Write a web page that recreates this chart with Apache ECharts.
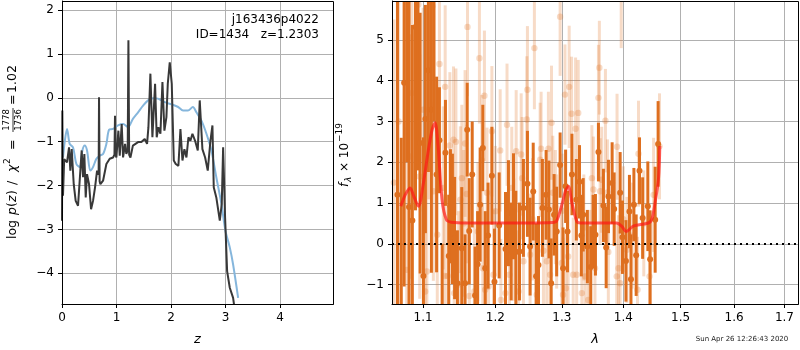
<!DOCTYPE html>
<html>
<head>
<meta charset="utf-8">
<script src="https://cdn.jsdelivr.net/npm/echarts@6/dist/echarts.min.js"></script>
<style>
html, body { margin: 0; padding: 0; background: #fff; }
#main { width: 800px; height: 350px; }
</style>
</head>
<body>
<div id="main"></div>
<script>
// ---- p(z) panel ----
var zBlack = [0, 0.006, 0.018, 0.04, 0.068, 0.092, 0.129, 0.153, 0.178, 0.215, 0.251, 0.294, 0.325, 0.361, 0.386, 0.41, 0.435, 0.459, 0.496, 0.533, 0.569, 0.606, 0.643, 0.672, 0.679, 0.69, 0.704, 0.753, 0.814, 0.875, 0.936, 0.962, 0.972, 0.982, 0.997, 1.034, 1.059, 1.095, 1.12, 1.157, 1.18, 1.205, 1.218, 1.232, 1.255, 1.30, 1.395, 1.456, 1.517, 1.56, 1.585, 1.621, 1.658, 1.707, 1.737, 1.768, 1.805, 1.842, 1.878, 1.915, 1.94, 1.976, 2.013, 2.05, 2.086, 2.135, 2.172, 2.209, 2.245, 2.282, 2.319, 2.355, 2.392, 2.441, 2.49, 2.526, 2.575, 2.625, 2.673, 2.722, 2.759, 2.783, 2.83, 2.894, 2.93, 2.955, 2.991, 3.028, 3.077, 3.138, 3.17];
var logpBlack = [-2.8, -0.29, -2.23, -1.4, -1.36, -1.47, -1.13, -1.66, -1.17, -1.97, -2.35, -2.46, -2.42, -1.2, -1.81, -1.28, -2.27, -1.74, -1.97, -2.54, -2.35, -2.04, -1.66, -1.75, 0.01, -1.9, -1.97, -1.89, -1.51, -1.39, -1.36, -1.3, -0.41, -1.3, -1.36, -0.75, -1.32, -0.6, -1.36, -1.05, -1.28, -1.2, 1.31, -1.3, -1.36, -1.09, -1.01, -1.01, -0.94, -1.05, -0.67, 0.55, -0.9, 0.32, -0.9, -0.67, -0.82, 0.36, -0.75, -0.44, 0.32, 0.81, 0.32, -1.43, -1.51, -1.55, -0.71, -1.43, -1.17, -1.36, -0.9, -0.98, -0.82, -0.98, -1.2, -0.06, -1.17, -1.36, -1.66, -0.98, -0.63, -2.04, -2.27, -2.8, -2.42, -1.13, -2.73, -3.95, -4.33, -4.56, -4.85];
var zBlue = [0.019, 0.05, 0.092, 0.141, 0.202, 0.264, 0.325, 0.374, 0.417, 0.459, 0.520, 0.569, 0.631, 0.692, 0.753, 0.814, 0.863, 0.936, 1.028, 1.12, 1.21, 1.30, 1.395, 1.487, 1.579, 1.67, 1.76, 1.884, 2.007, 2.13, 2.22, 2.31, 2.40, 2.465, 2.557, 2.649, 2.74, 2.83, 2.924, 2.997, 3.077, 3.138, 3.23];
var logpBlue = [-1.36, -1.0, -0.71, -1.05, -1.13, -1.51, -1.58, -1.2, -1.09, -1.2, -1.66, -1.58, -1.39, -1.32, -1.28, -1.05, -0.73, -0.71, -0.63, -0.60, -0.67, -0.48, -0.33, -0.18, -0.06, -0.01, -0.02, -0.10, -0.15, -0.21, -0.29, -0.29, -0.21, -0.33, -0.52, -0.82, -1.2, -1.81, -2.42, -3.03, -3.41, -3.8, -4.56];

// ---- spectrum panel ----
var darkLam = [1.0665, 1.0714, 1.0751, 1.0785, 1.0815, 1.0858, 1.0899, 1.0930, 1.0960, 1.1004, 1.1030, 1.1070, 1.1110, 1.1145, 1.1180, 1.1218, 1.1255, 1.1300, 1.1345, 1.1368, 1.1395, 1.1425, 1.1464, 1.1524, 1.1570, 1.1600, 1.1628, 1.1670, 1.1710, 1.1746, 1.1782, 1.1820, 1.1855, 1.1895, 1.1950, 1.1987, 1.2055, 1.2148, 1.2191, 1.2231, 1.2265, 1.2300, 1.2354, 1.2413, 1.2473, 1.2513, 1.2560, 1.2604, 1.2640, 1.2700, 1.2757, 1.2800, 1.2835, 1.2880, 1.2920, 1.2974, 1.3020, 1.3060, 1.3090, 1.3160, 1.3230, 1.3280, 1.3310, 1.3340, 1.3407, 1.3462, 1.3500, 1.3538, 1.3587, 1.3669, 1.3714, 1.3752, 1.3813, 1.3847, 1.3947, 1.3986, 1.4045, 1.4104, 1.4130, 1.4180, 1.4219, 1.4276, 1.4330, 1.4420, 1.4460, 1.4548, 1.4600];
var darkFlux = [1.2, -2.0, 3.95, 6.5, 0.9, 0.57, 5.32, 6.8, 2.47, -0.79, 3.06, 4.26, 3.29, 7.0, 1.7, 2.54, -2.0, 2.23, -0.3, 0.92, 0.61, 0.14, -0.97, -0.11, -0.97, 2.80, 0.31, 1.70, -1.27, -0.50, 0.96, 2.35, -0.60, 0.20, 1.67, -0.93, 0.45, -0.13, 0.75, -0.19, 0.92, -0.20, -0.19, 0.88, 1.47, -0.07, 1.28, -0.80, -0.52, 0.88, 1.20, 0.84, -0.97, 0.71, 0.30, 1.93, -0.60, 1.41, 0.30, 1.70, 1.08, 1.52, 0.20, 0.71, -0.07, -0.57, 0.30, 0.22, 2.25, 0.94, -0.09, 1.16, 1.49, 0.85, 1.25, 0.16, -0.42, 0.79, -0.87, 0.96, -0.28, 1.79, 0.63, 0.92, -0.38, 0.59, 2.45];
var darkErr = [5.5, 4.6, 5.0, 4.5, 5.5, 4.8, 4.5, 5.0, 3.2, 3.4, 2.8, 2.5, 4.0, 4.0, 2.4, 1.3, 2.0, 1.3, 1.5, 1.4, 1.6, 1.5, 1.3, 1.5, 1.2, 1.15, 1.3, 1.3, 1.2, 1.3, 1.4, 1.06, 1.4, 1.3, 1.2, 1.3, 1.3, 1.4, 1.3, 1.2, 1.3, 1.5, 1.2, 1.2, 1.3, 1.2, 1.2, 1.3, 1.2, 1.2, 1.1, 1.2, 1.1, 1.0, 1.1, 0.8, 1.0, 0.9, 1.0, 1.0, 1.0, 0.9, 1.0, 0.9, 0.9, 1.0, 0.9, 1.0, 0.72, 0.9, 1.0, 0.9, 1.0, 0.9, 1.0, 0.9, 1.0, 0.9, 1.1, 0.9, 1.0, 0.82, 1.0, 1.1, 1.2, 1.3, 1.05];

var lightLam = [1.0620, 1.0680, 1.0785, 1.0828, 1.0851, 1.0898, 1.0937, 1.0955, 1.1000, 1.1027, 1.1050, 1.1075, 1.1093, 1.1124, 1.1136, 1.1189, 1.1218, 1.1270, 1.1287, 1.1296, 1.1330, 1.1360, 1.1410, 1.1419, 1.1443, 1.1480, 1.1505, 1.1525, 1.1550, 1.1570, 1.1594, 1.1604, 1.1630, 1.1700, 1.1750, 1.1772, 1.1806, 1.1820, 1.1843, 1.1854, 1.1880, 1.1902, 1.1950, 1.1973, 1.2000, 1.2070, 1.2080, 1.2147, 1.2170, 1.2205, 1.2240, 1.2270, 1.2305, 1.2340, 1.2379, 1.2393, 1.2413, 1.2464, 1.2473, 1.2513, 1.2550, 1.2578, 1.2614, 1.2665, 1.2680, 1.2716, 1.2767, 1.2792, 1.2818, 1.2840, 1.2860, 1.2900, 1.2920, 1.2974, 1.3000, 1.3005, 1.3020, 1.3050, 1.3065, 1.3100, 1.3116, 1.3154, 1.3180, 1.3218, 1.3235, 1.3260, 1.3318, 1.3350, 1.3370, 1.3420, 1.3450, 1.3480, 1.3505, 1.3530, 1.3587, 1.3602, 1.3615, 1.3640, 1.3702, 1.3735, 1.3750, 1.3890, 1.3895, 1.3920, 1.3947, 1.3965, 1.4000, 1.4060, 1.4150, 1.4242, 1.4259, 1.4350, 1.4450, 1.4520, 1.4624];
var lightFlux = [1.5, 3.0, -0.64, 2.14, 3.70, 7.5, 5.87, 1.65, 3.29, -1.17, -0.68, 3.29, 4.52, 5.83, 1.29, 0.22, 4.41, 1.37, -0.79, 3.85, -0.79, 2.41, 2.55, -1.21, 2.50, -1.00, 1.08, 1.61, 0.50, 2.46, 1.22, 5.32, -1.28, -1.17, 0.30, 4.55, 2.05, -0.60, 3.63, -1.13, 1.25, -1.05, 2.76, -0.76, 0.80, 2.29, -1.38, -1.21, 2.92, -0.76, 1.37, 0.10, 2.27, -1.17, 2.19, 1.61, -0.43, 3.05, 3.78, -0.27, 0.60, 4.80, -1.25, 2.06, 2.33, -0.17, -0.43, 2.33, -0.76, 2.97, 1.25, 0.90, 0.30, 5.57, -0.47, 0.81, -1.25, 3.66, -1.09, -0.31, 3.85, 3.19, -0.76, 2.82, -0.76, 3.21, -1.21, 0.40, -0.80, -1.38, -0.47, 1.61, 1.33, -0.60, 3.58, 4.32, 1.29, 1.57, 3.02, 1.26, -0.20, -0.80, 2.38, -0.60, -0.97, 6.30, 0.60, -0.15, 0.20, -1.13, 2.21, 0.50, -0.80, 1.20, 2.39];
var lightErr = [4.0, 4.5, 3.5, 3.0, 2.5, 3.0, 3.0, 3.0, 2.5, 2.5, 2.5, 2.2, 2.5, 2.5, 2.2, 2.0, 2.0, 2.0, 2.0, 2.0, 2.0, 1.8, 1.8, 1.8, 1.8, 1.8, 1.8, 1.8, 1.8, 1.8, 1.7, 1.7, 1.7, 1.7, 1.7, 1.6, 1.6, 1.6, 1.6, 1.6, 1.6, 1.6, 1.6, 1.6, 1.6, 1.5, 1.5, 1.5, 1.5, 1.5, 1.5, 1.5, 1.5, 1.5, 1.5, 1.5, 1.5, 1.55, 1.56, 1.5, 1.5, 1.5, 1.5, 1.4, 1.4, 1.4, 1.4, 1.4, 1.4, 1.4, 1.4, 1.4, 1.4, 1.45, 1.4, 1.4, 1.4, 1.23, 1.4, 1.4, 1.5, 1.4, 1.4, 1.75, 1.3, 1.3, 1.3, 1.3, 1.3, 1.3, 1.3, 1.3, 1.3, 1.3, 1.3, 1.15, 1.3, 1.3, 1.27, 1.3, 1.3, 1.3, 1.3, 1.3, 1.3, 1.5, 1.3, 1.3, 1.3, 1.3, 1.3, 1.3, 1.3, 1.4, 1.3];

var modelLam = [1.0708, 1.0765, 1.0828, 1.0880, 1.0938, 1.1000, 1.1070, 1.1120, 1.1159, 1.1200, 1.1253, 1.1313, 1.1380, 1.1600, 1.2000, 1.2500, 1.2850, 1.2917, 1.3000, 1.3060, 1.3104, 1.3160, 1.3238, 1.3300, 1.3890, 1.3980, 1.4047, 1.4110, 1.4177, 1.4430, 1.4490, 1.4550, 1.4607, 1.4630];
var modelFlux = [0.92, 1.20, 1.37, 1.15, 0.92, 1.45, 2.30, 2.80, 2.97, 2.40, 1.08, 0.59, 0.53, 0.51, 0.51, 0.51, 0.52, 0.55, 0.95, 1.30, 1.41, 1.00, 0.55, 0.51, 0.51, 0.42, 0.30, 0.36, 0.44, 0.51, 0.60, 1.04, 1.60, 2.40];

// tick labels
var zTicks = [0, 1, 2, 3, 4];
var logpTicks = [-4, -3, -2, -1, 0, 1, 2];
var lamTicks = [1.1, 1.2, 1.3, 1.4, 1.5, 1.6, 1.7];
var fluxTicks = [-1, 0, 1, 2, 3, 4, 5];

var FONT = 'DejaVu Sans';
var ORANGE = '#de6f1f';

function zip() {
  var cols = arguments, out = [];
  for (var i = 0; i < cols[0].length; i++) {
    var row = [];
    for (var k = 0; k < cols.length; k++) row.push(cols[k][i]);
    out.push(row);
  }
  return out;
}

function minus(v) { return String(v).replace('-', '\u2212'); }

// error bar + dot, clipped to the plot box
function errBars(alpha, r) {
  return function (params, api) {
    var lam = api.value(0), f = api.value(1), e = api.value(2);
    var top = api.coord([lam, f + e]);
    var bot = api.coord([lam, f - e]);
    var c = api.coord([lam, f]);
    var cs = params.coordSys;
    var box = { x: cs.x, y: cs.y, width: cs.width, height: cs.height };
    var bar = echarts.graphic.clipRectByRect({ x: c[0] - 1.5, y: top[1], width: 3, height: bot[1] - top[1] }, box);
    var kids = [];
    if (bar) kids.push({ type: 'rect', shape: bar, style: { fill: ORANGE, opacity: alpha } });
    if (c[1] >= cs.y && c[1] <= cs.y + cs.height) {
      kids.push({ type: 'circle', shape: { cx: c[0], cy: c[1], r: r }, style: { fill: ORANGE, opacity: alpha } });
    }
    return { type: 'group', children: kids };
  };
}

function axisBase(ticks, fmt) {
  return {
    axisLine: { show: true, onZero: false, lineStyle: { color: '#000', width: 1 } },
    axisTick: { show: true, customValues: ticks, length: 4, lineStyle: { color: '#000', width: 1 } },
    axisLabel: { customValues: ticks, formatter: fmt, color: '#000', fontSize: 12, fontFamily: FONT, margin: 8 },
    splitLine: { show: true, lineStyle: { color: '#b0b0b0', width: 1 } }
  };
}

var xLeft = axisBase(zTicks, minus);
xLeft.gridIndex = 0; xLeft.type = 'value'; xLeft.min = 0; xLeft.max = 4.97;
xLeft.name = 'z'; xLeft.nameLocation = 'middle'; xLeft.nameGap = 29;
xLeft.nameTextStyle = { fontStyle: 'italic', fontSize: 13, fontFamily: FONT, color: '#000' };

var xRight = axisBase(lamTicks, function (v) { return Number(v).toFixed(1); });
xRight.gridIndex = 1; xRight.type = 'log'; xRight.logBase = 10; xRight.min = 1.0595; xRight.max = 1.728;
xRight.name = 'λ'; xRight.nameLocation = 'middle'; xRight.nameGap = 29;
xRight.nameTextStyle = { fontStyle: 'italic', fontSize: 13, fontFamily: FONT, color: '#000' };

var yLeft = axisBase(logpTicks, minus);
yLeft.gridIndex = 0; yLeft.type = 'value'; yLeft.min = -4.70; yLeft.max = 2.206;

var yRight = axisBase(fluxTicks, minus);
yRight.gridIndex = 1; yRight.type = 'value'; yRight.min = -1.478; yRight.max = 5.956;

var txt = function (x, y, s, size, extra) {
  var st = { text: s, x: x, y: y, font: (size || 12) + 'px "' + FONT + '"', fill: '#000', verticalAlign: 'middle' };
  for (var k in extra) st[k] = extra[k];
  return { type: 'text', style: st, z: 120 };
};

// rotated label piece, local x runs up the page
function piece(x, y, s, font) {
  return { type: 'text', x: x, y: y, style: { text: s, font: font + ' "' + FONT + '"', fill: '#000', align: 'left', verticalAlign: 'middle' } };
}

var chart = echarts.init(document.getElementById('main'), null, { renderer: 'canvas' });
chart.setOption({
  animation: false,
  backgroundColor: '#fff',
  textStyle: { fontFamily: FONT },
  grid: [
    { left: 62, top: 1, width: 271, height: 303, outerBoundsMode: 'none', containLabel: false },
    { left: 392, top: 1, width: 406, height: 303, outerBoundsMode: 'none', containLabel: false }
  ],
  xAxis: [xLeft, xRight],
  yAxis: [yLeft, yRight],
  series: [
    {
      type: 'line', xAxisIndex: 0, yAxisIndex: 0, data: zip(zBlue, logpBlue),
      showSymbol: false, smooth: 0.3, clip: true,
      lineStyle: { color: '#85b6dc', width: 2 }, z: 2
    },
    {
      type: 'line', xAxisIndex: 0, yAxisIndex: 0, data: zip(zBlack, logpBlack),
      showSymbol: false, clip: true,
      lineStyle: { color: '#383838', width: 2 }, z: 3
    },
    {
      type: 'custom', xAxisIndex: 1, yAxisIndex: 1, data: zip(lightLam, lightFlux, lightErr),
      renderItem: errBars(0.25, 3.2), encode: { x: 0, y: 1 }, z: 2
    },
    {
      type: 'custom', xAxisIndex: 1, yAxisIndex: 1, data: zip(darkLam, darkFlux, darkErr),
      renderItem: errBars(1, 3), encode: { x: 0, y: 1 }, z: 3
    },
    {
      type: 'line', xAxisIndex: 1, yAxisIndex: 1, data: zip(modelLam, modelFlux),
      showSymbol: false, smooth: 0.3, clip: true,
      lineStyle: { color: 'rgba(255,20,20,0.68)', width: 3 }, z: 4,
      markLine: {
        silent: true, symbol: 'none', label: { show: false },
        lineStyle: { color: '#000', type: [2, 4], width: 2 },
        data: [{ yAxis: 0 }]
      }
    }
  ],
  graphic: [
    { type: 'rect', shape: { x: 62.5, y: 1.5, width: 271, height: 303 }, style: { fill: 'none', stroke: '#000', lineWidth: 1 }, z: 110 },
    { type: 'rect', shape: { x: 392.5, y: 1.5, width: 406, height: 303 }, style: { fill: 'none', stroke: '#000', lineWidth: 1 }, z: 110 },
    txt(319, 20, 'j163436p4022', 12, { align: 'right' }),
    txt(319, 35, 'ID=1434   z=1.2303', 12, { align: 'right' }),
    txt(742, 339, 'Sun Apr 26 12:26:43 2020', 7, { align: 'center', fill: '#222' }),
    {
      type: 'group', x: 13, y: 239, rotation: Math.PI / 2, z: 120,
      children: [
        piece(0, 0, 'log', '12.5px'),
        piece(24, 0, 'p', 'italic 12.5px'),
        piece(32, 0, '(', '12.5px'),
        piece(37, 0, 'z', 'italic 12.5px'),
        piece(44, 0, ')', '12.5px'),
        piece(54, 0, '/', '12.5px'),
        piece(67, 0, 'χ', 'italic 12.5px'),
        piece(75, -5, '2', '9px'),
        piece(89, 0, '=', '12.5px'),
        { type: 'text', x: 119, y: -6, style: { text: '1778', font: '8.5px "' + FONT + '"', fill: '#000', align: 'center', verticalAlign: 'middle' } },
        { type: 'text', x: 119, y: 6, style: { text: '1736', font: '8.5px "' + FONT + '"', fill: '#000', align: 'center', verticalAlign: 'middle' } },
        { type: 'line', shape: { x1: 107, y1: 0, x2: 131, y2: 0 }, style: { stroke: '#000', lineWidth: 0.8 } },
        piece(134, 0, '=', '12.5px'),
        piece(146, 0, '1.02', '12.5px')
      ]
    },
    {
      type: 'group', x: 345, y: 187, rotation: Math.PI / 2, z: 120,
      children: [
        piece(0, 0, 'f', 'italic 12px'),
        piece(5, 4, 'λ', 'italic 9px'),
        piece(15, 0, '× 10', '12px'),
        piece(45, -5, '\u221219', '9px')
      ]
    }
  ]
});
</script>
</body>
</html>
